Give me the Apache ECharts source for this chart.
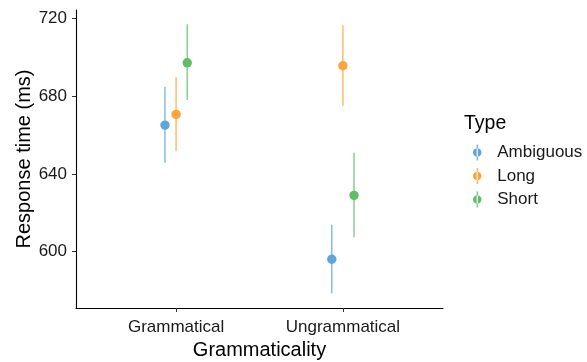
<!DOCTYPE html>
<html><head><meta charset="utf-8">
<script src="https://cdn.jsdelivr.net/npm/echarts@6/dist/echarts.min.js"></script>
<style>html,body{margin:0;padding:0;background:#fff}#c{width:587px;height:362px}</style>
</head><body><div id="c"></div>
<script>
const categories = ['Grammatical', 'Ungrammatical'];
const types = ['Ambiguous', 'Long', 'Short'];
const yTicks = [600, 640, 680, 720];

const ambiguousMean = [665.1, 596.0];
const ambiguousLow  = [645.7, 578.5];
const ambiguousHigh = [684.9, 613.8];

const longMean = [670.6, 695.7];
const longLow  = [651.6, 675.1];
const longHigh = [689.7, 716.6];

const shortMean = [697.2, 628.9];
const shortLow  = [678.0, 607.3];
const shortHigh = [717.0, 650.9];

const colors = ['#5DA5DA', '#FAA43A', '#60BD68'];
const dodge = 0.2;
const FONT = 'Liberation Sans, Arial, sans-serif';

const seriesData = [
  [ambiguousMean, ambiguousLow, ambiguousHigh],
  [longMean, longLow, longHigh],
  [shortMean, shortLow, shortHigh]
];

function renderItem(params, api) {
  const x = api.value(0);
  const m = api.coord([x, api.value(1)]);
  const lo = api.coord([x, api.value(2)]);
  const hi = api.coord([x, api.value(3)]);
  const c = api.visual('color');
  return {
    type: 'group',
    children: [
      { type: 'line', shape: { x1: m[0], y1: lo[1], x2: m[0], y2: hi[1] },
        style: { stroke: c, lineWidth: 1.3, opacity: 0.85 } },
      { type: 'circle', shape: { cx: m[0], cy: m[1], r: 4.7 }, style: { fill: c } }
    ]
  };
}

const series = types.map((t, k) => ({
  name: t,
  type: 'custom',
  renderItem: renderItem,
  itemStyle: { color: colors[k] },
  encode: { x: 0, y: [1, 2, 3] },
  data: categories.map((c, i) => [
    i + 1 + (k - 1) * dodge / 3,
    seriesData[k][0][i], seriesData[k][1][i], seriesData[k][2][i]
  ])
}));

const legendIcon = 'path://M4.4,0 L5.6,0 L5.6,17 L4.4,17 Z M5,4 A4.5,4.5 0 1 0 5,13 A4.5,4.5 0 1 0 5,4 Z';

const chart = echarts.init(document.getElementById('c'), null, { renderer: 'canvas' });
chart.setOption({
  animation: false,
  textStyle: { fontFamily: FONT },
  title: {
    text: 'Type', left: 459, top: 109,
    textStyle: { fontFamily: FONT, fontSize: 19.5, fontWeight: 'normal', color: '#000' }
  },
  legend: {
    orient: 'vertical', left: 468, top: 139,
    itemWidth: 30, itemHeight: 16, itemGap: 6.5,
    data: types.map(t => ({ name: t, icon: legendIcon })),
    textStyle: { fontFamily: FONT, fontSize: 17, color: '#1a1a1a', lineHeight: 16 }
  },
  grid: { left: 76, right: 144, top: 10, bottom: 54, containLabel: false, outerBoundsMode: 'none' },
  xAxis: {
    type: 'value', min: 0.4, max: 2.6,
    name: 'Grammaticality', nameLocation: 'middle', nameGap: 32, nameMoveOverlap: false,
    nameTextStyle: { fontFamily: FONT, fontSize: 20, color: '#000' },
    axisLine: { show: true, lineStyle: { color: '#000', width: 1.1 } },
    axisTick: { show: true, length: 4, lineStyle: { color: '#333' }, customValues: [1, 2] },
    axisLabel: {
      margin: 11, fontFamily: FONT, fontSize: 17, color: '#1a1a1a',
      customValues: [1, 2],
      formatter: v => categories[Math.round(v) - 1] || ''
    },
    splitLine: { show: false }
  },
  yAxis: {
    type: 'value', min: 570.9, max: 724.4,
    name: 'Response time (ms)', nameLocation: 'middle', nameGap: 42, nameRotate: 90, nameMoveOverlap: false,
    nameTextStyle: { fontFamily: FONT, fontSize: 20, color: '#000' },
    axisLine: { show: true, lineStyle: { color: '#000', width: 1.1 } },
    axisTick: { show: true, length: 4, lineStyle: { color: '#333' }, customValues: yTicks },
    axisLabel: {
      margin: 9, fontFamily: FONT, fontSize: 17, color: '#1a1a1a',
      customValues: yTicks
    },
    splitLine: { show: false }
  },
  series: series
});
</script></body></html>
